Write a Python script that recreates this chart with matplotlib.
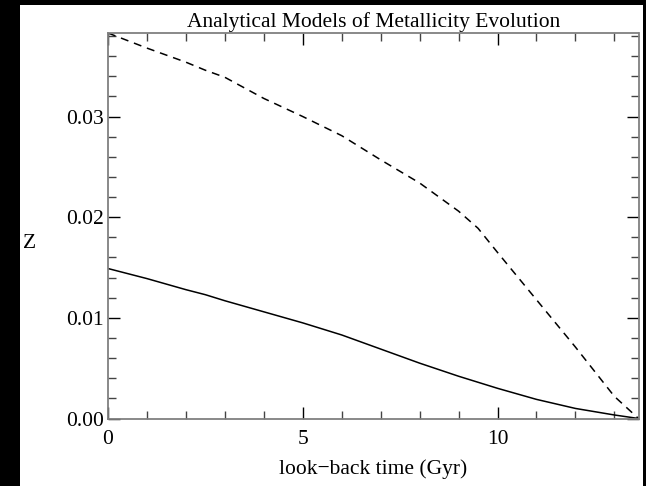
import matplotlib
matplotlib.use("Agg")
import matplotlib.pyplot as plt
from matplotlib.patches import Rectangle
from matplotlib.ticker import MultipleLocator, FormatStrFormatter

# data
t_solid = [0.0, 1.0, 2.0, 2.5, 3.0, 4.0, 5.0, 6.0, 7.0, 8.0, 9.0, 10.0, 11.0, 12.0, 13.0, 13.62]
z_solid = [0.0149, 0.0139, 0.0128, 0.0123, 0.0117, 0.0106, 0.0095, 0.0083, 0.0069, 0.0055,
           0.0042, 0.0030, 0.0019, 0.0010, 0.00035, 0.0]
t_dash = [0.0, 1.0, 2.0, 2.5, 3.0, 4.0, 5.0, 6.0, 7.0, 8.0, 9.0, 9.5, 10.0, 11.0, 12.0, 13.0, 13.62]
z_dash = [0.0383, 0.0368, 0.0354, 0.0346, 0.0339, 0.0318, 0.0300, 0.0281, 0.0257, 0.0234,
          0.0206, 0.0189, 0.0165, 0.0118, 0.0071, 0.0022, 0.0]
x_max = 13.62
y_max = 0.0383

title = "Analytical Models of Metallicity Evolution"
xlabel = "look\u2212back time (Gyr)"
ylabel = "Z"

W, H = 646, 486
fig = plt.figure(figsize=(W / 100, H / 100), dpi=100, facecolor="black")
bg = fig.add_axes([0, 0, 1, 1], zorder=-10)
bg.set_axis_off()
bg.set_xlim(0, W)
bg.set_ylim(H, 0)
bg.add_patch(Rectangle((20, 5), 643 - 20, H - 5, facecolor="white", edgecolor="none"))

left, right, top, bottom = 108, 638.5, 33, 418.5
ax = fig.add_axes([left / W, 1 - bottom / H, (right - left) / W, (bottom - top) / H])
ax.set_facecolor("white")

ax.plot(t_solid, z_solid, color="black", lw=1.1, solid_capstyle="butt")
ax.plot(t_dash, z_dash, color="black", lw=1.1, dashes=(5.2, 3.9))

ax.set_xlim(0, x_max)
ax.set_ylim(0, y_max)

ax.xaxis.set_major_locator(MultipleLocator(5))
ax.xaxis.set_minor_locator(MultipleLocator(1))
ax.yaxis.set_major_locator(MultipleLocator(0.01))
ax.yaxis.set_minor_locator(MultipleLocator(0.002))
ax.yaxis.set_major_formatter(FormatStrFormatter("%.2f"))
ax.xaxis.set_major_formatter(FormatStrFormatter("%d"))

font = "Liberation Serif"
fs = 15.5
ax.tick_params(which="both", direction="in", top=True, right=True, colors="black",
               labelsize=fs)
ax.tick_params(which="major", length=8.5, width=1.0)
ax.tick_params(which="minor", length=6, width=1.0, color="#444444")
ax.tick_params(axis="y", which="major", pad=3)
ax.tick_params(axis="x", which="major", pad=8)
for lab in ax.get_xticklabels() + ax.get_yticklabels():
    lab.set_fontfamily(font)
for s in ax.spines.values():
    s.set_color("#808080")
    s.set_linewidth(1.3)

ax.set_title(title, fontfamily=font, fontsize=fs, pad=4)
ax.set_xlabel(xlabel, fontfamily=font, fontsize=fs, labelpad=8)
ax.set_ylabel(ylabel, fontfamily=font, fontsize=fs, rotation=0, ha="center", va="center")
ax.yaxis.set_label_coords(-0.147, 0.455)

fig.savefig("out.png", dpi=100, facecolor="black")
